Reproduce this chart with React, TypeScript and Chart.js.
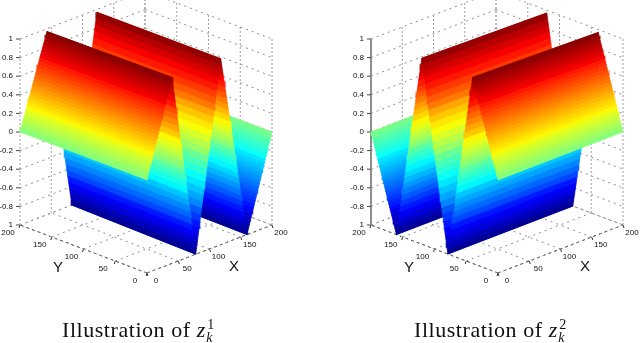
import React, { useEffect, useRef } from "react";
import { Chart, registerables } from "chart.js";

Chart.register(...registerables);

// Ridge/valley positions of the surface along its running axis
const leftKnotsNear = [0, 40, 78, 118, 160, 200];
const leftKnotsFar = [0, 43, 83, 123, 163, 200];
const rightKnotsNear = [0, 40, 79, 120, 160, 200];
const rightKnotsFar = [0, 39, 79, 120, 160, 200];
const knotHeights = [0, 1, -1, 1, -1, 0];
const farHeights = [0, 0.97, -1, 0.97, -1, 0];
const stripsPerFace = [30, 29, 30, 31, 30];
const planeTicks = [0, 50, 100, 150, 200];
const heightTicks = [1, 0.8, 0.6, 0.4, 0.2, 0, -0.2, -0.4, -0.6, -0.8, -1];
const heightLabels = ["1", "0.8", "0.6", "0.4", "0.2", "0", "-0.2", "-0.4", "-0.6", "-0.8", "1"];

type Pt = { x: number; y: number };
const panels = [{ ox: 147, swap: false, title: 62 }, { ox: 498, swap: true, title: 414 }];

function project(ox: number, X: number, Y: number, z: number): Pt {
  return { x: ox + 0.625 * X - 0.635 * Y, y: 273 - 0.24 * (X + Y) - 93 * (z + 1) };
}

function jet(level: number): string {
  const v = (level + 0.5) / 64;
  const ch = (c: number) => Math.round(255 * Math.max(0, Math.min(1, 1.5 - Math.abs(4 * v - c))));
  return `rgb(${ch(3)},${ch(2)},${ch(1)})`;
}

function surface(ox: number, swap: boolean, near: number[], far: number[]) {
  const out: any[] = [];
  const pick = (k: number, across: number, z: number) =>
    swap ? project(ox, across, k, z) : project(ox, k, across, z);
  for (let i = 0; i < near.length - 1; i++) {
    const za = knotHeights[i], zb = knotHeights[i + 1];
    const fa = farHeights[i], fb = farHeights[i + 1];
    const n = stripsPerFace[i];
    for (let s = 0; s < n; s++) {
      const t1 = s / n, t2 = (s + 1) / n;
      const at = (t: number, end: number) => {
        const row = end === 0 ? near : far;
        const k = row[i] + (row[i + 1] - row[i]) * t;
        const z = end === 0 ? za + (zb - za) * t : fa + (fb - fa) * t;
        return pick(k, end * 200, z);
      };
      const zMid = za + (zb - za) * (t1 + t2) / 2;
      const l = Math.max(0, Math.min(63, Math.floor(((zMid + 1) / 2) * 64)));
      const a = at(t1, 0);
      out.push({
        data: [a, at(t2, 0), at(t2, 1), at(t1, 1), a],
        showLine: true, fill: "shape", pointRadius: 0, borderWidth: 0.7,
        borderColor: jet(l), backgroundColor: jet(l), tension: 0,
      });
    }
  }
  return out;
}

function seg(a: Pt, b: Pt, color: string, width: number, dash: number[]) {
  return { data: [a, b], showLine: true, fill: false, pointRadius: 0, borderColor: color, borderWidth: width, borderDash: dash };
}

function frame(ox: number, grey: boolean) {
  const out: any[] = [];
  const g = "#8c8c8c", d = [2, 4];
  for (const t of planeTicks) {
    out.push(seg(project(ox, t, 0, -1), project(ox, t, 200, -1), g, 1, d));
    out.push(seg(project(ox, 0, t, -1), project(ox, 200, t, -1), g, 1, d));
    out.push(seg(project(ox, 200, t, -1), project(ox, 200, t, 1), "#a0a0a0", 1, [2, 2]));
    out.push(seg(project(ox, t, 200, -1), project(ox, t, 200, 1), "#a0a0a0", 1, [2, 2]));
  }
  for (const z of heightTicks) {
    out.push(seg(project(ox, 0, 200, z), project(ox, 200, 200, z), g, 1, d));
    out.push(seg(project(ox, 200, 200, z), project(ox, 200, 0, z), g, 1, d));
    const p = project(ox, 0, 200, z);
    out.push(seg(p, { x: p.x - 4, y: p.y }, "#444", 1, []));
  }
  out.push(seg(project(ox, 0, 0, -1), project(ox, 200, 0, -1), "#333", 1, [3, 3]));
  out.push(seg(project(ox, 0, 0, -1), project(ox, 0, 200, -1), "#333", 1, [3, 3]));
  for (const t of planeTicks) {
    const a = project(ox, t, 0, -1);
    out.push(seg(a, { x: a.x + 1, y: a.y + 3 }, "#333", 1, []));
    const b = project(ox, 0, t, -1);
    out.push(seg(b, { x: b.x - 1, y: b.y + 3 }, "#333", 1, []));
  }
  if (grey) out.push(seg(project(ox, 0, 200, -1), project(ox, 0, 200, 1), "#888", 2, []));
  return out;
}

const textPlugin = {
  id: "plotText",
  afterDraw(chart: any) {
    const c = chart.ctx;
    c.save();
    c.fillStyle = "#111";
    c.textBaseline = "middle";
    for (const { ox, title, swap } of panels) {
      c.letterSpacing = "0px";
      c.font = '8px "Liberation Sans"';
      c.textAlign = "right";
      heightTicks.forEach((z, i) => {
        const p = project(ox, 0, 200, z);
        c.fillText(heightLabels[i], p.x - 7, p.y);
      });
      c.textAlign = "center";
      for (const t of planeTicks) {
        const a = project(ox, t, 0, -1);
        c.fillText(String(t), a.x + 9, a.y + 8);
        const b = project(ox, 0, t, -1);
        c.fillText(String(t), b.x - 12, b.y + 8);
      }
      c.font = '15px "Liberation Sans"';
      c.fillText("Y", ox - 89, 268);
      c.fillText("X", ox + 87, 267);
      c.textAlign = "left";
      c.textBaseline = "alphabetic";
      c.font = '22px "Liberation Serif"';
      c.letterSpacing = "0.55px";
      const head = "Illustration of ";
      c.fillText(head, title, 337);
      const w = c.measureText(head).width;
      c.letterSpacing = "0px";
      c.font = 'italic 22px "Liberation Serif"';
      c.fillText("z", title + w, 337);
      const zw = c.measureText("z").width;
      c.font = '14px "Liberation Serif"';
      c.fillText(swap ? "2" : "1", title + w + zw + 2, 329);
      c.font = 'italic 14px "Liberation Serif"';
      c.fillText("k", title + w + zw + 1, 342);
      c.textBaseline = "middle";
    }
    c.restore();
  },
};

export default function App() {
  const ref = useRef<HTMLCanvasElement>(null);
  useEffect(() => {
    const datasets = [
      ...surface(panels[0].ox, false, leftKnotsNear, leftKnotsFar),
      ...frame(panels[0].ox, false),
      ...surface(panels[1].ox, true, rightKnotsNear, rightKnotsFar),
      ...frame(panels[1].ox, true),
    ];
    const chart = new Chart(ref.current!, {
      type: "scatter",
      data: { datasets },
      options: {
        animation: false,
        responsive: false,
        layout: { padding: 0 },
        scales: {
          x: { type: "linear", min: 0, max: 640, display: false },
          y: { type: "linear", min: 0, max: 343, reverse: true, display: false },
        },
        plugins: { legend: { display: false }, tooltip: { enabled: false } },
      },
      plugins: [textPlugin],
    } as any);
    return () => chart.destroy();
  }, []);
  return (
    <div style={{ position: "absolute", left: 0, top: 0, width: 640, height: 343, background: "#fff" }}>
      <canvas ref={ref} width={640} height={343} style={{ display: "block", filter: "blur(0.4px)" }} />
    </div>
  );
}
